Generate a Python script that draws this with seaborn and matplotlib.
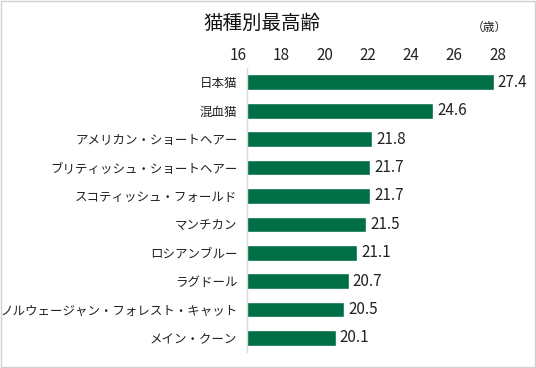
import matplotlib
matplotlib.use('Agg')
import matplotlib.pyplot as plt
import matplotlib.transforms as mtransforms
import seaborn as sns
import pandas as pd

# データ
breeds = ['日本猫', '混血猫', 'アメリカン・ショートヘアー', 'ブリティッシュ・ショートヘアー',
          'スコティッシュ・フォールド', 'マンチカン', 'ロシアンブルー', 'ラグドール',
          'ノルウェージャン・フォレスト・キャット', 'メイン・クーン']
max_age = [27.4, 24.6, 21.8, 21.7, 21.7, 21.5, 21.1, 20.7, 20.5, 20.1]
x_ticks = [16, 18, 20, 22, 24, 26, 28]

df = pd.DataFrame({'breed': breeds, 'age': max_age})

sns.set_theme(style='white')
plt.rcParams['font.family'] = ['Noto Sans CJK JP', 'DejaVu Sans']

fig = plt.figure(figsize=(5.36, 3.68), dpi=100)
ax = fig.add_axes([0.461, 0.043, 0.484, 0.772])

sns.barplot(data=df, x='age', y='breed', color='#006f46', width=0.55,
            saturation=1, ax=ax)

ax.set_xlim(16, 28)
ax.set_ylim(9.5, -0.5)
ax.set_xticks(x_ticks)
ax.xaxis.tick_top()
ax.tick_params(axis='x', length=0, labelsize=11, pad=3, colors='#222222')
ax.tick_params(axis='y', length=0, labelsize=9, pad=7, colors='#222222')
# 目盛ラベルを少し左へずらす
offset = mtransforms.ScaledTranslation(-9 / 100, 0, fig.dpi_scale_trans)
for lab in ax.get_xticklabels():
    lab.set_transform(lab.get_transform() + offset)

ax.set_xlabel('')
ax.set_ylabel('')
for s in ['top', 'right', 'bottom']:
    ax.spines[s].set_visible(False)
ax.spines['left'].set_color('#d9d9d9')
ax.spines['left'].set_linewidth(1)

ax.bar_label(ax.containers[0], fmt='%.1f', padding=3, fontsize=11, color='#222222')

fig.text(0.489, 0.935, '猫種別最高齢', ha='center', va='center', fontsize=14, color='#111111')
fig.text(0.913, 0.925, '（歳）', ha='center', va='center', fontsize=8.5, color='#222222')

# 外枠
fig.patches.append(plt.Rectangle((0.002, 0.003), 0.996, 0.994, transform=fig.transFigure,
                                 fill=False, edgecolor='#d0d0d0', linewidth=1))

fig.savefig('out.png', dpi=100)
